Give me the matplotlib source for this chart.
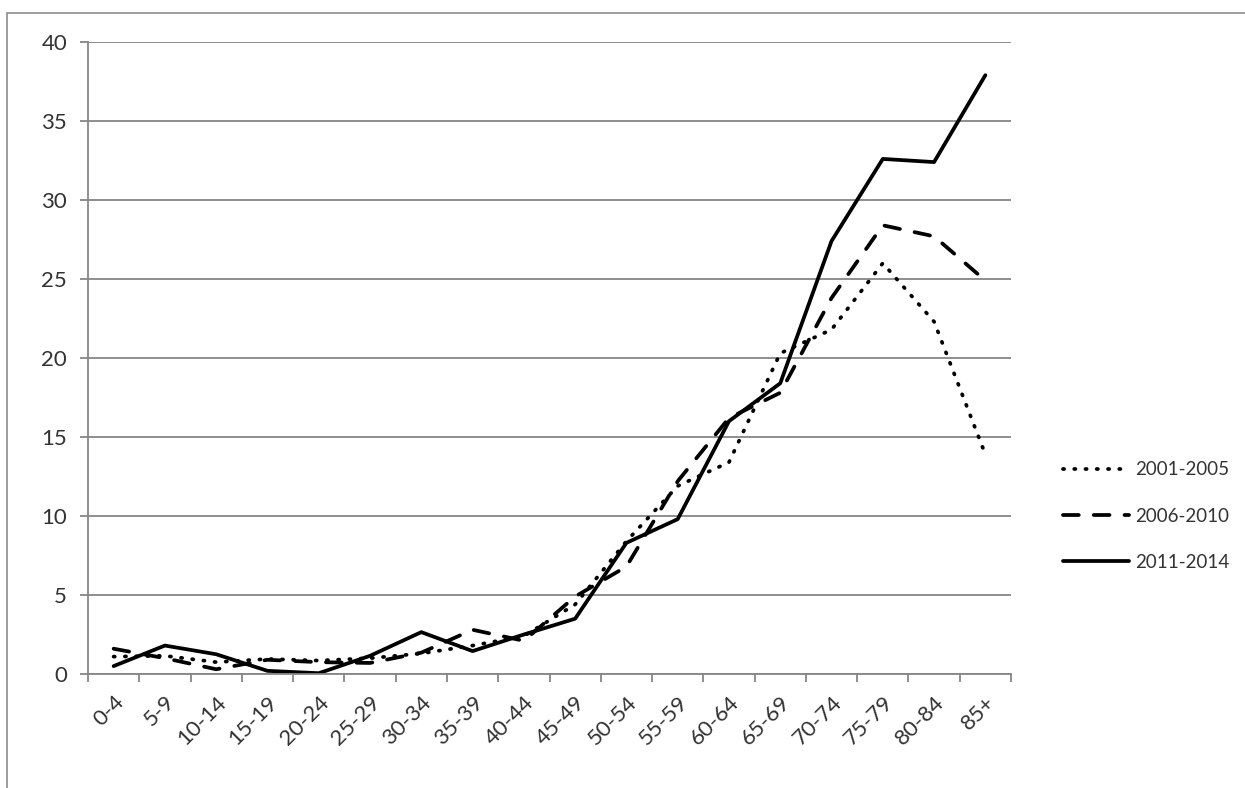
import numpy as np
import matplotlib
matplotlib.use('Agg')
import matplotlib.pyplot as plt
from matplotlib.patches import Rectangle

ages = ['0-4', '5-9', '10-14', '15-19', '20-24', '25-29', '30-34', '35-39', '40-44',
        '45-49', '50-54', '55-59', '60-64', '65-69', '70-74', '75-79', '80-84', '85+']
s2001 = [1.1, 1.15, 0.75, 0.95, 0.85, 1.0, 1.3, 1.8, 2.4, 4.4, 8.4, 11.9, 13.4, 20.3, 21.8, 26.0, 22.3, 13.9]
s2006 = [1.6, 1.0, 0.3, 0.9, 0.75, 0.7, 1.35, 2.8, 2.1, 4.9, 6.8, 12.2, 16.2, 17.8, 23.8, 28.4, 27.7, 24.9]
s2011 = [0.5, 1.8, 1.25, 0.2, 0.05, 1.15, 2.65, 1.45, 2.5, 3.5, 8.3, 9.8, 16.0, 18.4, 27.4, 32.6, 32.4, 37.9]
labels = ['2001-2005', '2006-2010', '2011-2014']

plt.rcParams['font.family'] = ['Lato', 'DejaVu Sans']
grey = '#868686'

fig = plt.figure(figsize=(12.45, 7.88), dpi=100)
# outer chart frame (cut off on right and bottom like the screenshot)
fig.patches.append(Rectangle((7/1245, -0.1), 1.2, 1.1 - 13/788, transform=fig.transFigure,
                             fill=False, edgecolor='#8c8c8c', linewidth=1.2))
ax = fig.add_axes([88/1245, 1 - 674/788, (1011 - 88)/1245, (674 - 42)/788])

x = np.arange(len(ages))
ax.plot(x, s2001, color='black', lw=2.7, dashes=(0.3, 2.7), dash_capstyle='round', label=labels[0])
ax.plot(x, s2006, color='black', lw=2.7, dashes=(4.2, 4.0), dash_capstyle='round', label=labels[1])
ax.plot(x, s2011, color='black', lw=2.7, solid_capstyle='round', label=labels[2])

ax.set_xlim(-0.5, len(ages) - 0.5)
ax.set_ylim(0, 40)
ax.set_yticks(np.arange(0, 41, 5))
ax.yaxis.grid(True, color=grey, lw=1.3)
ax.set_axisbelow(True)

ax.set_xticks(x)
ax.set_xticklabels(ages, rotation=45, ha='right', rotation_mode='anchor')
ax.set_xticks(np.arange(-0.5, len(ages)), minor=True)
ax.tick_params(axis='x', which='major', length=0, pad=13, labelsize=16, colors='#333333')
ax.tick_params(axis='x', which='minor', length=6, width=1.3, color=grey)
ax.tick_params(axis='y', length=6, width=1.3, color=grey, labelsize=16, labelcolor='#333333', pad=9)

for side in ['top', 'right']:
    ax.spines[side].set_visible(False)
for side in ['left', 'bottom']:
    ax.spines[side].set_color(grey)
    ax.spines[side].set_linewidth(1.3)

leg = ax.legend(loc='center left', bbox_to_anchor=(1054/1245, 1 - 516/788),
                bbox_transform=fig.transFigure, frameon=False, fontsize=13.5,
                handlelength=3.5, handletextpad=0.3, labelspacing=1.55, borderpad=0)
for t in leg.get_texts():
    t.set_color('#333333')

fig.savefig('out.png', dpi=100)
